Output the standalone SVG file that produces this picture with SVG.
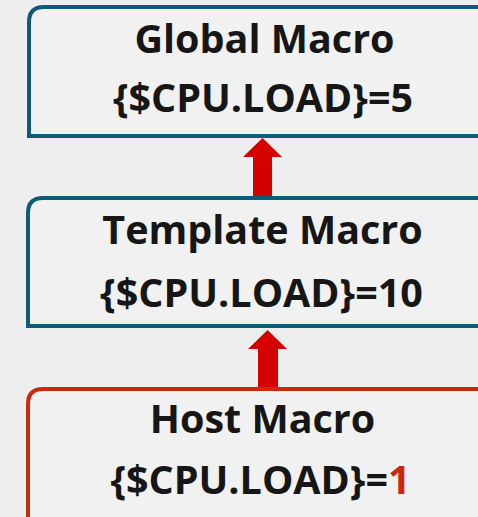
<svg xmlns="http://www.w3.org/2000/svg" width="478" height="517" viewBox="0 0 478 517">
<style>
.box{fill:#f1f1f1;stroke-width:4}
.blue{stroke:#0e5a79}
.red{stroke:#c9290f}
.t{font-family:"Open Sans","Liberation Sans",sans-serif;font-weight:700;font-size:39.5px;fill:#161616;text-anchor:middle}
.arr{fill:#d50000}
</style>
<rect width="478" height="517" fill="#eeeeee"/>
<g id="connectors">
<polygon class="arr" points="253,198 272,198 272,157 282,157 262.5,138 243,157 253,157"/>
<polygon class="arr" points="258,389 278,389 278,349 287,349 267.5,330 248,349 258,349"/>
</g>
<g id="global">
<path class="box blue" d="M29,136 V22 Q29,7 44,7 H482 V136 Z"/>
<text class="t" x="264.5" y="53">Global Macro</text>
<text class="t" x="263" y="112">{$CPU.LOAD}=5</text>
</g>
<g id="template">
<path class="box blue" d="M28,326 V213 Q28,198 43,198 H482 V326 Z"/>
<text class="t" x="262.5" y="244">Template Macro</text>
<text class="t" x="261.5" y="307">{$CPU.LOAD}=10</text>
</g>
<g id="host">
<path class="box red" d="M28,522 V404 Q28,389 43,389 H482 V522 Z"/>
<text class="t" x="262.5" y="433">Host Macro</text>
<text class="t" x="260.5" y="494">{$CPU.LOAD}=<tspan fill="#c9290f">1</tspan></text>
</g>
</svg>
